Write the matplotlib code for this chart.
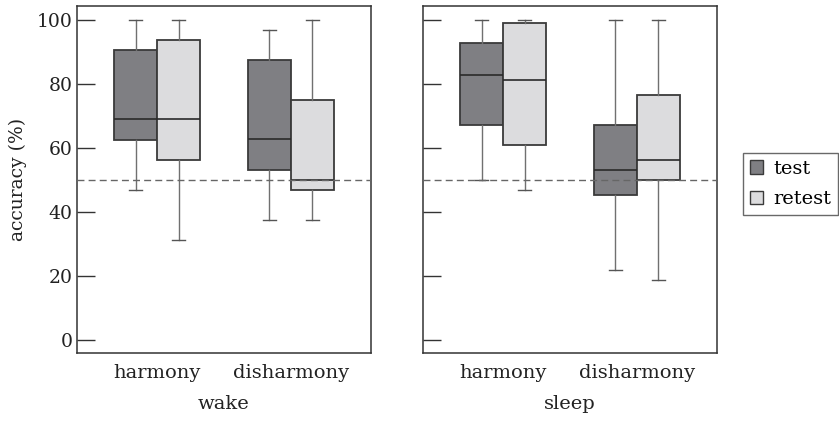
import matplotlib
matplotlib.use("Agg")
import matplotlib.pyplot as plt
from matplotlib.patches import Patch

plt.rcParams['font.family'] = ['DejaVu Serif']

# data: whisker low, Q1, median, Q3, whisker high
groups = ['harmony', 'disharmony']
panels = ['wake', 'sleep']
series = ['test', 'retest']

wake_test_lo = [47.0, 37.5]
wake_test_q1 = [62.5, 53.2]
wake_test_med = [69.0, 62.7]
wake_test_q3 = [90.5, 87.6]
wake_test_hi = [100.0, 97.0]

wake_retest_lo = [31.2, 37.5]
wake_retest_q1 = [56.1, 47.0]
wake_retest_med = [69.0, 50.0]
wake_retest_q3 = [93.8, 75.0]
wake_retest_hi = [100.0, 100.0]

sleep_test_lo = [50.0, 22.0]
sleep_test_q1 = [67.1, 45.4]
sleep_test_med = [82.9, 53.2]
sleep_test_q3 = [92.9, 67.1]
sleep_test_hi = [100.0, 100.0]

sleep_retest_lo = [47.0, 18.8]
sleep_retest_q1 = [60.9, 50.0]
sleep_retest_med = [81.2, 56.2]
sleep_retest_q3 = [99.2, 76.5]
sleep_retest_hi = [100.0, 100.0]

chance = 50

data = {
    'wake': {
        'test': (wake_test_lo, wake_test_q1, wake_test_med, wake_test_q3, wake_test_hi),
        'retest': (wake_retest_lo, wake_retest_q1, wake_retest_med, wake_retest_q3, wake_retest_hi),
    },
    'sleep': {
        'test': (sleep_test_lo, sleep_test_q1, sleep_test_med, sleep_test_q3, sleep_test_hi),
        'retest': (sleep_retest_lo, sleep_retest_q1, sleep_retest_med, sleep_retest_q3, sleep_retest_hi),
    },
}

colors = {'test': '#7f7f83', 'retest': '#dcdcde'}
edge = '#3a3a3a'
wcol = '#707070'
offsets = {'test': -0.16, 'retest': 0.16}
width = 0.32
txt = '#222222'

fig = plt.figure(figsize=(8.39, 4.25), dpi=100)
ax1 = fig.add_axes([77 / 839, 1 - 353 / 425, 294 / 839, 347 / 425])
ax2 = fig.add_axes([423 / 839, 1 - 353 / 425, 294 / 839, 347 / 425])

for ax, panel in zip([ax1, ax2], panels):
    for s in series:
        lo, q1, med, q3, hi = data[panel][s]
        stats = []
        for i in range(len(groups)):
            stats.append(dict(whislo=lo[i], q1=q1[i], med=med[i], q3=q3[i], whishi=hi[i], fliers=[]))
        pos = [i + 1 + offsets[s] for i in range(len(groups))]
        ax.bxp(stats, positions=pos, widths=width, patch_artist=True, showfliers=False,
               boxprops=dict(facecolor=colors[s], edgecolor=edge, linewidth=1.3),
               medianprops=dict(color='#2a2a2a', linewidth=1.2),
               whiskerprops=dict(color=wcol, linewidth=1.0),
               capprops=dict(color='#555555', linewidth=1.0),
               capwidths=width * 0.3)
    ax.axhline(chance, color='#666666', linestyle=(0, (5, 3)), linewidth=1.0, zorder=3)
    ax.set_xlim(0.4, 2.6)
    ax.set_ylim(-4.1, 104.4)
    ax.set_xticks([1, 2])
    ax.set_xticklabels(groups, fontsize=14, color=txt)
    ax.tick_params(axis='x', length=0, pad=8)
    ax.set_yticks([0, 20, 40, 60, 80, 100])
    ax.tick_params(axis='y', direction='in', length=13, width=1, color='#333333',
                   labelsize=13.5, labelcolor=txt, pad=3)
    ax.set_xlabel(panel, fontsize=14, color=txt, labelpad=9)
    for sp in ax.spines.values():
        sp.set_color('#333333')
        sp.set_linewidth(1.1)

ax2.set_yticklabels([])
ax1.set_ylabel('accuracy (%)', fontsize=13.5, color=txt, labelpad=7)

handles = [Patch(facecolor=colors[s], edgecolor=edge, label=s) for s in series]
fig.legend(handles=handles, loc='upper left', bbox_to_anchor=(743 / 839, 1 - 153 / 425),
           frameon=True, fancybox=False, edgecolor='#444444', fontsize=14,
           handlelength=0.7, handleheight=0.7, handletextpad=0.5, borderpad=0.35,
           labelspacing=0.65, borderaxespad=0)

fig.savefig('out.png', dpi=100)
